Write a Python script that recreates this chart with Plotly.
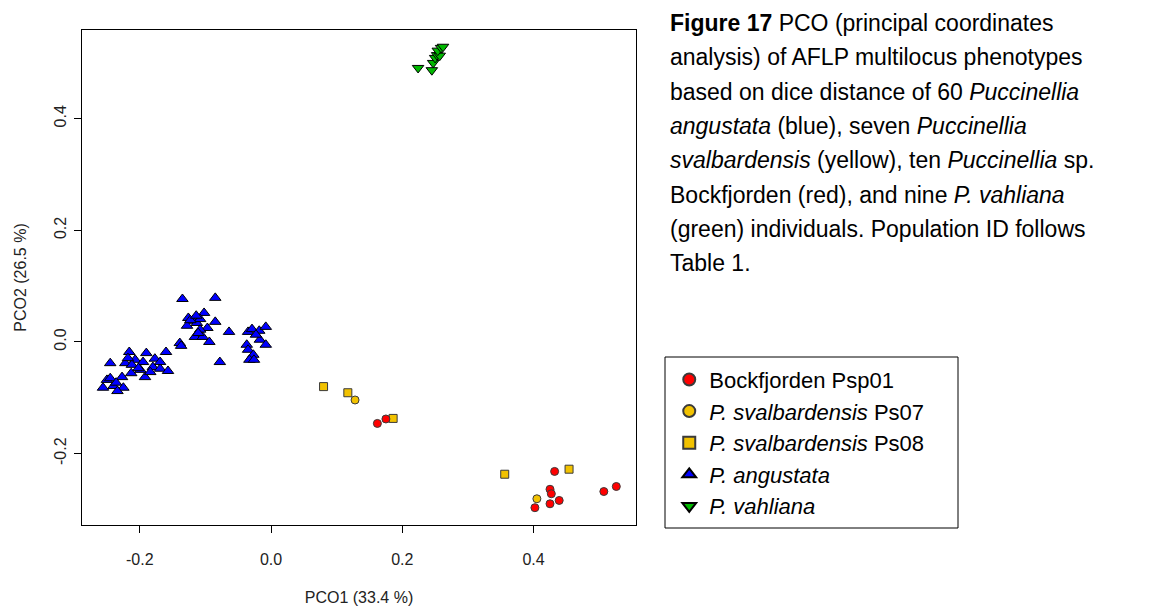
import plotly.graph_objects as go

# ---- data (PCO1, PCO2) ----
angustata_x = [-0.135, -0.085, -0.102, -0.126, -0.119, -0.113, -0.108, -0.097, -0.085, -0.128,
               -0.108, -0.116, -0.104, -0.094, -0.064, -0.078, -0.139, -0.137, -0.160,
               -0.035, -0.029, -0.018, -0.008, -0.017, -0.008, -0.037, -0.035, -0.027, -0.033, -0.026,
               -0.216, -0.190, -0.177, -0.245, -0.222, -0.207, -0.195, -0.212, -0.199, -0.180,
               -0.169, -0.157, -0.192, -0.213, -0.227, -0.250, -0.256, -0.240, -0.225, -0.234,
               -0.202, -0.184, -0.245,
               -0.123, -0.114, -0.218, -0.236, -0.169, -0.111, -0.023]
angustata_y = [0.077, 0.079, 0.052, 0.043, 0.038, 0.034, 0.041, 0.025, 0.036, 0.029,
               0.022, 0.009, 0.009, 0.000, 0.018, -0.036, -0.002, -0.007, -0.018,
               0.018, 0.023, 0.020, 0.027, 0.004, -0.005, -0.005, -0.014, -0.023, -0.032, -0.032,
               -0.018, -0.020, -0.030, -0.038, -0.038, -0.032, -0.036, -0.041, -0.050, -0.045,
               -0.048, -0.052, -0.063, -0.056, -0.063, -0.068, -0.082, -0.079, -0.082, -0.088,
               -0.047, -0.054, -0.065,
               0.039, 0.047, -0.029, -0.073, -0.036, 0.016, 0.013]

vahliana_x = [0.224, 0.245, 0.247, 0.250, 0.253, 0.257, 0.254, 0.259, 0.262]
vahliana_y = [0.491, 0.487, 0.500, 0.509, 0.514, 0.513, 0.522, 0.527, 0.529]

ps08_x = [0.080, 0.117, 0.186, 0.356, 0.454]
ps08_y = [-0.080, -0.091, -0.137, -0.237, -0.228]

ps07_x = [0.128, 0.405]
ps07_y = [-0.104, -0.281]

psp01_x = [0.162, 0.175, 0.432, 0.425, 0.427, 0.439, 0.425, 0.402, 0.507, 0.526]
psp01_y = [-0.146, -0.138, -0.232, -0.264, -0.272, -0.284, -0.290, -0.297, -0.268, -0.259]

x_ticks = [-0.2, 0.0, 0.2, 0.4]
y_ticks = [-0.2, 0.0, 0.2, 0.4]
x_tick_text = ["-0.2", "0.0", "0.2", "0.4"]
y_tick_text = ["-0.2", "0.0", "0.2", "0.4"]

caption_lines = [
    "<b>Figure 17</b> PCO (principal coordinates",
    "analysis) of AFLP multilocus phenotypes",
    "based on dice distance of 60 <i>Puccinellia</i>",
    "<i>angustata</i> (blue), seven <i>Puccinellia</i>",
    "<i>svalbardensis</i> (yellow), ten <i>Puccinellia</i> sp.",
    "Bockfjorden (red), and nine <i>P. vahliana</i>",
    "(green) individuals. Population ID follows",
    "Table 1.",
]

FONT = "Liberation Sans, Arial, sans-serif"
GOLD = "#F2C200"

fig = go.Figure()
fig.add_trace(go.Scatter(x=angustata_x, y=angustata_y, mode="markers", name="<i>P. angustata</i>",
                         legendrank=4,
                         marker=dict(symbol="triangle-up", size=10, color="#0000FF",
                                     line=dict(color="black", width=1))))
fig.add_trace(go.Scatter(x=vahliana_x, y=vahliana_y, mode="markers", name="<i>P. vahliana</i>",
                         legendrank=5,
                         marker=dict(symbol="triangle-down", size=10, color="#00B800",
                                     line=dict(color="black", width=1))))
fig.add_trace(go.Scatter(x=ps08_x, y=ps08_y, mode="markers", name="<i>P. svalbardensis</i> Ps08",
                         legendrank=3,
                         marker=dict(symbol="square", size=8, color=GOLD,
                                     line=dict(color="#3a3a3a", width=1))))
fig.add_trace(go.Scatter(x=ps07_x, y=ps07_y, mode="markers", name="<i>P. svalbardensis</i> Ps07",
                         legendrank=2,
                         marker=dict(symbol="circle", size=8, color=GOLD,
                                     line=dict(color="#3a3a3a", width=1))))
fig.add_trace(go.Scatter(x=psp01_x, y=psp01_y, mode="markers", name="Bockfjorden Psp01",
                         legendrank=1,
                         marker=dict(symbol="circle", size=8, color="#FF0000",
                                     line=dict(color="#3a3a3a", width=1))))

axis_common = dict(showline=True, linecolor="black", linewidth=1, mirror=True,
                   ticks="outside", ticklen=7, tickcolor="black", tickwidth=1,
                   showgrid=False, zeroline=False, automargin=False,
                   tickfont=dict(family=FONT, size=16, color="#222222"))

fig.update_xaxes(range=[-0.288, 0.556], tickvals=x_ticks, ticktext=x_tick_text,
                 ticklabelstandoff=13,
                 title=dict(text="PCO1 (33.4 %)", font=dict(family=FONT, size=16, color="#222222"),
                            standoff=26),
                 **axis_common)
fig.update_yaxes(range=[-0.328, 0.559], tickvals=y_ticks, ticktext=y_tick_text,
                 tickangle=-90, ticklabelstandoff=2,
                 title=dict(text="PCO2 (26.5 %)", font=dict(family=FONT, size=16, color="#222222"),
                            standoff=20),
                 **axis_common)

annotations = []
for i, line in enumerate(caption_lines):
    annotations.append(dict(xref="paper", yref="paper", x=1.0578,
                            y=(525 - (23 + 34.3 * i)) / 495,
                            xanchor="left", yanchor="middle", showarrow=False, align="left",
                            text=line, font=dict(family=FONT, size=23, color="black")))

fig.update_layout(
    width=1165, height=606,
    margin=dict(l=82, r=529, t=30, b=81, autoexpand=False),
    paper_bgcolor="white", plot_bgcolor="white",
    font=dict(family=FONT, color="black"),
    showlegend=True,
    legend=dict(x=1.06, y=0.336, xanchor="left", yanchor="top",
                font=dict(family=FONT, size=22, color="black"),
                bgcolor="rgba(0,0,0,0)", borderwidth=0, itemsizing="constant",
                tracegroupgap=0),
    annotations=annotations,
    shapes=[dict(type="rect", xref="paper", yref="paper",
                 x0=(665 - 82) / 554, x1=(958 - 82) / 554,
                 y0=(525 - 528) / 495, y1=(525 - 357) / 495,
                 line=dict(color="black", width=1), fillcolor="rgba(0,0,0,0)")],
)

fig.write_html("out.html")
